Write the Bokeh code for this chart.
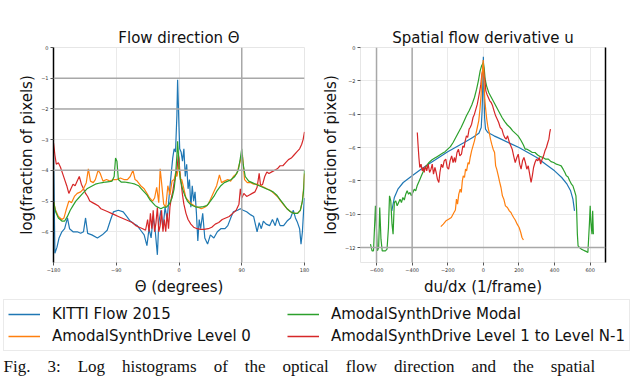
from bokeh.plotting import figure
from bokeh.models import Range1d, FixedTicker, Span, LinearAxis, Legend, LegendItem, ColumnDataSource, Label
from bokeh.layouts import column, row
from bokeh.embed import file_html
from bokeh.resources import INLINE

# ---------------- data: flow direction (left) ----------------
dir_kitti_x = [-180, -178, -175, -172, -168, -164, -160, -157, -152, -146, -141, -137, -134, -131, -125, -117, -110, -103, -98, -94, -87, -80, -75, -70, -64, -60, -55, -50, -46, -43, -40, -37, -34, -31, -29, -26, -23, -20, -17, -14, -12, -9, -7, -5, -3, -2, -1, 0, 1, 3, 5, 7, 9, 11, 13, 15, 17, 19, 21, 23, 25, 27, 29, 31, 34, 37, 41, 45, 50, 55, 60, 66, 70, 75, 78, 84, 88, 92, 97, 103, 107, 110, 112, 115, 118, 121, 125, 130, 134, 138, 141, 145, 150, 155, 160, 164, 167, 170, 173, 175, 177, 179, 180]
dir_kitti_y = [-3.3, -6.7, -6.5, -6.2, -6.0, -5.9, -5.55, -5.9, -6.0, -6.0, -6.05, -6.0, -5.55, -6.05, -6.1, -6.2, -6.1, -5.95, -5.6, -5.35, -5.3, -5.35, -5.5, -5.65, -5.75, -5.8, -5.95, -6.1, -6.45, -5.9, -6.2, -5.5, -6.0, -6.75, -5.7, -5.3, -5.9, -5.2, -5.6, -4.8, -4.3, -3.6, -3.3, -3.4, -2.2, -1.05, -1.8, -2.6, -3.3, -3.4, -3.7, -3.3, -4.2, -3.8, -4.6, -4.3, -5.2, -4.5, -5.0, -4.7, -5.4, -6.3, -5.6, -5.9, -5.4, -6.2, -6.4, -6.1, -6.2, -6.0, -5.9, -5.9, -5.8, -5.5, -5.35, -5.3, -5.25, -5.3, -5.35, -5.45, -5.5, -5.8, -6.0, -5.7, -5.9, -5.65, -5.75, -5.8, -5.6, -5.8, -5.55, -5.8, -5.8, -5.65, -5.55, -5.3, -5.55, -5.7, -5.9, -6.4, -6.0, -5.2, -4.9]

dir_level0_x = [-180, -177, -173, -168, -165, -162, -158, -154, -150, -146, -141, -137, -133, -130, -127, -123, -120, -116, -113, -109, -104, -99, -94, -89, -84, -79, -74, -70, -66, -63, -60, -55, -50, -46, -42, -38, -35, -32, -29, -27, -25, -22, -19, -16, -13, -10, -7, -5, -3, 0, 2, 4, 7, 10, 14, 18, 22, 27, 32, 37, 42, 46, 50, 54, 58, 61, 65, 70, 74, 78, 83, 86, 89, 91, 94, 98, 103, 107, 112, 117, 122, 126, 131, 136, 141, 146, 151, 155, 160, 165, 170, 174, 177, 179, 180]
dir_level0_y = [-5.0, -5.3, -5.5, -5.6, -5.55, -5.3, -5.0, -5.05, -4.85, -4.75, -4.7, -4.6, -4.4, -3.95, -4.35, -4.4, -4.3, -4.0, -4.1, -4.35, -4.3, -4.35, -4.3, -4.3, -4.25, -4.3, -4.3, -4.2, -4.0, -4.3, -4.35, -4.5, -4.6, -4.75, -4.9, -5.0, -4.9, -4.55, -5.05, -3.95, -4.4, -5.1, -5.2, -4.5, -4.8, -4.35, -4.3, -4.1, -4.2, -3.8, -4.3, -4.3, -4.6, -4.9, -5.0, -5.1, -5.15, -5.2, -5.25, -5.2, -5.1, -4.9, -4.7, -4.5, -4.15, -4.4, -4.35, -4.3, -4.35, -4.2, -4.1, -3.85, -3.6, -3.5, -4.3, -4.4, -4.4, -4.45, -4.45, -4.5, -4.55, -4.6, -4.65, -4.75, -4.85, -5.0, -5.15, -5.25, -5.35, -5.4, -5.4, -5.3, -5.0, -4.5, -4.1]

dir_modal_x = [-180, -177, -173, -168, -164, -160, -156, -152, -148, -144, -140, -136, -132, -128, -124, -120, -115, -110, -105, -100, -96, -93, -91, -89, -87, -83, -78, -73, -68, -63, -58, -54, -50, -46, -42, -38, -34, -30, -26, -22, -18, -14, -10, -7, -5, -3, -2, -1, 0, 2, 5, 8, 12, 16, 20, 25, 30, 35, 40, 45, 50, 55, 60, 65, 70, 75, 80, 85, 88, 90, 92, 95, 100, 105, 110, 115, 120, 125, 130, 135, 140, 145, 150, 155, 160, 165, 170, 174, 177, 179, 180]
dir_modal_y = [-5.0, -5.35, -5.55, -5.65, -5.65, -5.5, -5.3, -5.15, -5.0, -4.9, -4.8, -4.7, -4.6, -4.55, -4.5, -4.45, -4.42, -4.4, -4.38, -4.37, -4.35, -4.2, -3.6, -3.7, -4.3, -4.38, -4.38, -4.4, -4.42, -4.45, -4.5, -4.6, -4.7, -4.8, -4.95, -5.05, -5.15, -5.2, -5.25, -5.2, -5.2, -5.1, -4.9, -4.6, -4.2, -3.5, -3.05, -3.4, -3.9, -4.3, -4.6, -4.8, -5.0, -5.1, -5.15, -5.2, -5.2, -5.18, -5.15, -5.0, -4.85, -4.65, -4.5, -4.4, -4.35, -4.3, -4.2, -4.0, -3.6, -3.3, -3.8, -4.2, -4.35, -4.4, -4.45, -4.5, -4.55, -4.6, -4.65, -4.7, -4.8, -4.95, -5.1, -5.25, -5.35, -5.4, -5.4, -5.3, -5.0, -4.6, -4.0]

dir_levels_x = [-180, -178, -176, -173, -170, -167, -164, -161, -158, -155, -152, -149, -146, -143, -140, -137, -134, -131, -128, -124, -120, -116, -112, -107, -102, -97, -92, -87, -82, -77, -72, -67, -62, -57, -52, -48, -45, -43, -41, -39, -37, -35, -33, -31, -29, -27, -25, -23, -21, -19, -17, -15, -13, -11, -9, -7, -5, -3, -1, 0, 1, 3, 5, 7, 10, 13, 17, 21, 26, 31, 36, 42, 47, 52, 57, 62, 67, 72, 77, 82, 86, 88, 90, 93, 97, 101, 105, 109, 112, 115, 117, 120, 123, 126, 129, 133, 137, 141, 145, 149, 153, 157, 161, 165, 169, 173, 176, 178, 180]
dir_levels_y = [-3.1, -3.5, -3.8, -3.75, -3.9, -4.1, -4.3, -4.5, -4.75, -4.6, -4.45, -4.5, -4.35, -4.2, -4.45, -4.6, -4.75, -4.85, -5.0, -5.05, -5.1, -5.15, -5.25, -5.3, -5.35, -5.4, -5.45, -5.5, -5.55, -5.6, -5.65, -5.7, -5.8, -5.85, -5.9, -5.95, -5.6, -6.0, -5.4, -5.9, -5.3, -6.0, -5.7, -5.2, -6.0, -5.8, -5.3, -6.0, -5.6, -6.0, -5.4, -5.9, -5.2, -4.9, -4.7, -4.4, -4.2, -4.0, -3.5, -3.6, -4.0, -4.4, -4.8, -5.1, -5.4, -5.6, -5.75, -5.85, -5.9, -5.92, -5.92, -5.9, -5.85, -5.75, -5.7, -5.6, -5.55, -5.5, -5.4, -5.3, -5.1, -4.6, -4.9, -4.75, -4.85, -4.8, -4.75, -4.7, -4.55, -4.1, -4.5, -4.45, -4.2, -4.05, -4.1, -4.05, -4.0, -3.95, -3.85, -3.85, -3.75, -3.65, -3.6, -3.5, -3.4, -3.3, -3.15, -3.0, -2.75]

# ---------------- data: spatial flow derivative (right) ----------------
du_kitti_x = [-514, -500, -480, -450, -400, -350, -300, -250, -200, -150, -100, -60, -25, -12, -7, -3, 0, 3, 7, 12, 25, 60, 100, 150, 200, 250, 300, 350, 400, 440, 470, 490, 503, 512]
du_kitti_y = [-9.8, -9.0, -8.5, -8.1, -7.7, -7.3, -6.95, -6.6, -6.25, -5.95, -5.65, -5.4, -5.15, -4.8, -3.8, -2.2, -0.55, -2.4, -4.2, -4.9, -5.1, -5.3, -5.5, -5.75, -6.0, -6.3, -6.6, -7.0, -7.4, -7.8, -8.2, -8.6, -9.1, -9.8]

du_level0_x = [-239, -225, -210, -195, -180, -165, -157, -151, -145, -138, -130, -124, -118, -113, -106, -100, -94, -86, -80, -74, -66, -58, -50, -42, -34, -26, -19, -13, -8, -4, -1, 2, 5, 8, 13, 19, 26, 33, 40, 47, 55, 63, 69, 75, 84, 91, 99, 107, 115, 124, 135, 146, 155, 162, 170, 179, 190, 201, 210, 217, 225]
du_level0_y = [-10.75, -10.6, -10.4, -10.3, -10.2, -9.9, -9.75, -9.1, -9.4, -8.8, -8.5, -8.7, -8.0, -7.7, -7.8, -7.3, -7.4, -6.9, -7.0, -6.6, -6.2, -5.9, -5.6, -5.2, -4.8, -4.4, -3.7, -2.9, -1.7, -1.3, -0.75, -1.4, -2.4, -3.1, -3.7, -4.3, -4.8, -5.1, -5.5, -5.8, -6.1, -6.3, -7.1, -7.3, -7.7, -8.05, -8.4, -8.9, -9.1, -9.5, -9.6, -9.8, -9.9, -10.05, -10.2, -10.35, -10.6, -10.8, -11.1, -11.4, -11.55]

du_modal_x = [-634, -625, -617, -610, -606, -600, -595, -588, -582, -575, -568, -560, -550, -541, -533, -527, -520, -513, -507, -500, -492, -484, -476, -468, -460, -452, -444, -436, -428, -420, -412, -404, -396, -388, -380, -372, -364, -356, -348, -340, -332, -320, -305, -290, -275, -260, -245, -230, -215, -200, -185, -170, -155, -140, -125, -110, -95, -80, -65, -50, -38, -28, -18, -10, -5, 0, 5, 10, 18, 30, 45, 60, 75, 90, 105, 120, 135, 150, 165, 180, 195, 210, 225, 235, 245, 260, 275, 290, 305, 320, 335, 350, 365, 380, 395, 410, 425, 437, 448, 458, 466, 475, 485, 495, 503, 512, 520, 524, 528, 532, 540, 550, 560, 570, 580, 587, 591, 596, 600, 604, 610, 614, 618]
du_modal_y = [-11.8, -12.2, -12.2, -10.5, -9.5, -11.0, -12.2, -12.0, -9.6, -11.5, -12.2, -12.2, -12.2, -12.1, -10.8, -8.9, -9.2, -10.6, -11.2, -9.3, -9.2, -9.5, -9.3, -9.1, -9.3, -9.0, -9.15, -8.8, -8.6, -8.8, -8.7, -8.9, -8.7, -8.5, -8.6, -8.3, -8.1, -7.9, -7.7, -7.5, -7.3, -7.1, -6.9, -6.75, -6.65, -6.55, -6.45, -6.35, -6.25, -6.1, -5.95, -5.7, -5.4, -5.1, -4.8, -4.45, -4.1, -3.8, -3.45, -3.0, -2.5, -2.0, -1.4, -1.1, -1.0, -0.9, -1.3, -1.9, -2.3, -2.7, -3.0, -3.3, -3.6, -3.9, -4.2, -4.45, -4.65, -4.8, -5.0, -5.15, -5.3, -5.55, -5.85, -6.1, -6.1, -6.2, -6.3, -6.3, -6.45, -6.55, -6.6, -6.7, -6.7, -6.85, -6.9, -7.0, -7.05, -7.1, -7.3, -7.5, -7.7, -7.75, -8.0, -8.2, -8.3, -8.6, -8.9, -9.8, -11.2, -11.9, -12.0, -12.1, -12.15, -12.2, -12.25, -12.3, -11.5, -10.5, -9.5, -10.5, -11.2, -9.8, -11.2]

du_levels_x = [-371, -367, -362, -357, -350, -343, -337, -332, -325, -318, -310, -302, -294, -287, -280, -272, -265, -258, -250, -244, -236, -228, -220, -211, -203, -195, -187, -178, -170, -162, -157, -148, -140, -132, -123, -115, -108, -102, -95, -88, -80, -74, -66, -58, -50, -42, -34, -27, -20, -14, -8, -4, 0, 4, 8, 14, 20, 28, 36, 44, 52, 60, 69, 78, 86, 95, 104, 112, 120, 128, 136, 146, 154, 162, 170, 179, 188, 196, 204, 212, 220, 228, 236, 244, 252, 260, 268, 275, 282, 290, 298, 306, 314, 322, 330, 338, 346, 354, 362, 368, 373, 377]
du_levels_y = [-5.1, -5.8, -6.6, -7.2, -7.0, -7.4, -7.2, -7.5, -7.1, -7.4, -7.0, -7.5, -7.3, -7.0, -7.6, -7.2, -7.5, -7.9, -8.1, -7.5, -7.0, -7.2, -6.8, -6.7, -7.2, -7.3, -6.8, -6.5, -6.9, -6.6, -6.9, -6.3, -6.1, -6.5, -6.4, -5.9, -6.0, -5.6, -5.3, -5.4, -4.9, -4.8, -4.6, -4.2, -4.0, -3.7, -3.4, -3.0, -2.6, -2.2, -1.6, -1.4, -1.1, -1.7, -1.9, -2.6, -2.8, -3.0, -3.2, -3.3, -3.5, -3.8, -4.1, -4.3, -4.5, -4.8, -4.9, -5.2, -5.4, -5.5, -5.3, -5.7, -5.9, -6.1, -6.5, -6.9, -6.6, -6.4, -7.0, -7.3, -6.8, -6.6, -6.9, -7.3, -7.1, -7.6, -8.1, -7.7, -7.2, -6.9, -6.7, -6.8, -6.6, -7.0, -6.7, -6.5, -6.2, -6.0, -5.7, -5.5, -5.1, -4.9]

# ---------------- ticks, labels, reference lines ----------------
series_names = ["KITTI Flow 2015", "AmodalSynthDrive Level 0", "AmodalSynthDrive Modal", "AmodalSynthDrive Level 1 to Level N-1"]
series_colors = ["#1f77b4", "#ff7f0e", "#2ca02c", "#d62728"]

dir_xticks = [-180, -90, 0, 90, 180]
dir_yticks = [0, -1, -2, -3, -4, -5, -6]
du_xticks = [-600, -400, -200, 0, 200, 400, 600]
du_yticks = [0, -2, -4, -6, -8, -10, -12]
dir_dark_h = [-1, -2, -4]
dir_dark_v = [90]
du_dark_h = [-12]
du_dark_v = [-600, -400]

caption_words = ["Fig.", "3:", "Log", "histograms", "of", "the", "optical", "flow", "direction", "and", "the", "spatial"]

FONT = "DejaVu Sans"
GRID = "#eaeaea"
DARK = "#a8a8a8"


def minus(v):
    return str(v).replace("-", "\u2212")


def style(p, xticks, yticks, xlabel):
    p.title.align = "center"
    p.title.text_font = FONT
    p.title.text_font_size = "15px"
    p.title.text_font_style = "normal"
    p.title.text_color = "#111111"
    p.title.standoff = 2
    p.outline_line_color = "#e6e6e6"
    p.background_fill_color = "white"
    p.border_fill_color = "white"
    p.xaxis.ticker = FixedTicker(ticks=xticks)
    p.yaxis.ticker = FixedTicker(ticks=yticks)
    p.xaxis.major_label_overrides = {t: minus(t) for t in xticks}
    p.yaxis.major_label_overrides = {t: minus(t) for t in yticks}
    for ax in (p.xaxis, p.yaxis):
        ax.major_label_text_font = FONT
        ax.major_label_text_font_size = "5px"
        ax.major_label_text_color = "#333333"
        ax.major_tick_out = 3
        ax.major_tick_in = 0
        ax.major_tick_line_color = "#555555"
        ax.minor_tick_line_color = None
        ax.axis_label_text_font = FONT
        ax.axis_label_text_font_size = "15px"
        ax.axis_label_text_font_style = "normal"
        ax.axis_label_text_color = "#111111"
        ax.major_label_standoff = 2
    p.xaxis.axis_label = xlabel
    p.yaxis.axis_label = "log(fraction of pixels)"
    p.xaxis.axis_label_standoff = 3
    p.yaxis.axis_label_standoff = 2
    p.xaxis.axis_line_color = None
    p.xgrid.grid_line_color = GRID
    p.ygrid.grid_line_color = GRID
    p.xgrid.ticker = FixedTicker(ticks=xticks)
    p.ygrid.ticker = FixedTicker(ticks=yticks)


# ---------------- left plot ----------------
p1 = figure(width=318, height=298, x_range=Range1d(-180, 180), y_range=Range1d(-7, 0),
            title="Flow direction \u0398", output_backend="svg", toolbar_location=None,
            min_border_left=53, min_border_right=14, min_border_top=47, min_border_bottom=33)
style(p1, dir_xticks, dir_yticks, "\u0398 (degrees)")
p1.yaxis.axis_line_color = "black"
p1.yaxis.axis_line_width = 1.5
for h in dir_dark_h:
    p1.add_layout(Span(location=h, dimension="width", line_color=DARK, line_width=1.5))
for v in dir_dark_v:
    p1.add_layout(Span(location=v, dimension="height", line_color=DARK, line_width=1.5))
for xs, ys, c in [(dir_kitti_x, dir_kitti_y, series_colors[0]),
                  (dir_levels_x, dir_levels_y, series_colors[3]),
                  (dir_level0_x, dir_level0_y, series_colors[1]),
                  (dir_modal_x, dir_modal_y, series_colors[2])]:
    p1.line(xs, ys, line_color=c, line_width=1.2)

# ---------------- right plot ----------------
p2 = figure(width=322, height=298, x_range=Range1d(-690, 686), y_range=Range1d(-12.9, 0),
            title="Spatial flow derivative u", output_backend="svg", toolbar_location=None,
            min_border_left=37, min_border_right=35, min_border_top=47, min_border_bottom=33)
style(p2, du_xticks, du_yticks, "du/dx (1/frame)")
p2.yaxis.axis_line_color = None
rax = LinearAxis(ticker=FixedTicker(ticks=[]), axis_line_color="black", axis_line_width=1.5,
                 major_tick_line_color=None, minor_tick_line_color=None)
p2.add_layout(rax, "right")
for h in du_dark_h:
    p2.add_layout(Span(location=h, dimension="width", line_color=DARK, line_width=1.5))
for v in du_dark_v:
    p2.add_layout(Span(location=v, dimension="height", line_color=DARK, line_width=1.5))
for xs, ys, c in [(du_kitti_x, du_kitti_y, series_colors[0]),
                  (du_modal_x, du_modal_y, series_colors[2]),
                  (du_levels_x, du_levels_y, series_colors[3]),
                  (du_level0_x, du_level0_y, series_colors[1])]:
    p2.line(xs, ys, line_color=c, line_width=1.2)

# ---------------- legend + caption ----------------
p3 = figure(width=640, height=80, x_range=Range1d(0, 1), y_range=Range1d(0, 1),
            output_backend="svg", toolbar_location=None,
            min_border_left=0, min_border_right=0, min_border_top=0, min_border_bottom=0)
p3.xaxis.visible = False
p3.yaxis.visible = False
p3.xgrid.visible = False
p3.ygrid.visible = False
p3.outline_line_color = None
items = []
for name, c in zip(series_names, series_colors):
    src = ColumnDataSource(data=dict(x=[float("nan")], y=[float("nan")]))
    r = p3.line("x", "y", source=src, line_color=c, line_width=1.5)
    items.append(LegendItem(label=name, renderers=[r]))
legend = Legend(items=items, location=(3, 27), ncols=2,
                label_text_font=FONT, label_text_font_size="15px", label_text_color="#111111",
                glyph_width=32, glyph_height=20, label_height=20, label_width=233,
                label_standoff=12, spacing=2, padding=4, margin=0,
                border_line_color="#d6d6d6", border_line_width=1,
                background_fill_color="white", background_fill_alpha=1.0)
p3.add_layout(legend, "center")
gap = " \u00a0\u00a0\u00a0"
p3.add_layout(Label(x=3, y=12, x_units="screen", y_units="screen", text=gap.join(caption_words),
                    text_font="Liberation Serif", text_font_size="17px", text_baseline="alphabetic",
                    text_color="#111111"))

layout = column(row(p1, p2), p3)
open("out.html", "w").write(file_html(layout, INLINE))
